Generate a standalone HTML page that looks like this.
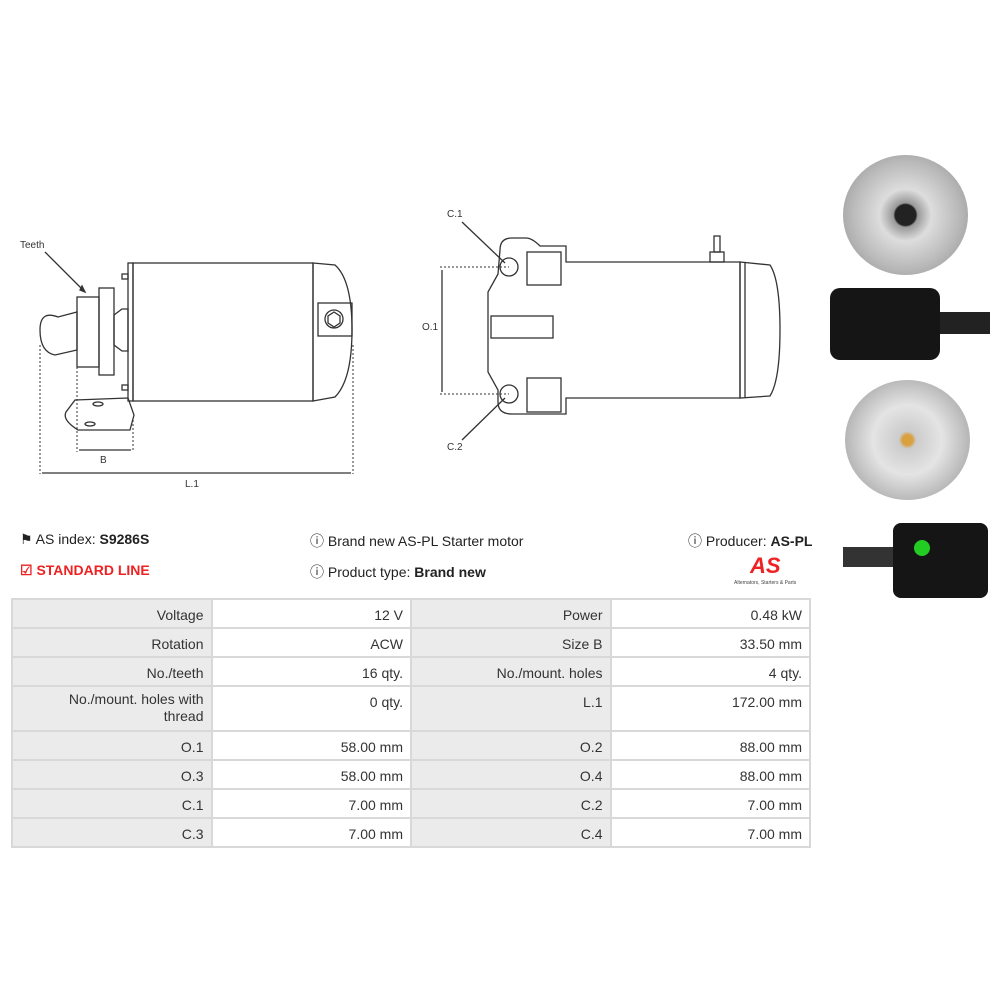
<!DOCTYPE html>
<html><head><style>
body{margin:0;width:1000px;height:1000px;background:#fff;font-family:"Liberation Sans",sans-serif;position:relative;overflow:hidden}
.t{position:absolute;font-size:14px;color:#222}
table{position:absolute;left:11px;top:598px;border-collapse:collapse;width:798px;font-size:14px;color:#333;table-layout:fixed}
tr{height:29px}
td{border:2px solid #d8d8d8;text-align:right;padding:7px 7px 0 7px;height:29px;vertical-align:top;box-sizing:border-box;width:199.5px}
td.g{background:#ebebeb}
</style></head><body>
<svg width="1000" height="520" style="position:absolute;left:0;top:0" fill="none" stroke="#333" stroke-width="1.3">
<text x="20" y="248" font-size="10" fill="#333" stroke="none" font-family="Liberation Sans">Teeth</text>
<line x1="45" y1="252" x2="83" y2="290"/><path d="M80 290 l5 2 -3 -6z" fill="#333"/>
<rect x="133" y="263" width="180" height="138"/>
<rect x="128" y="263" width="5" height="138"/>
<path d="M313 263 L335 265 Q352 280 352 330 Q352 380 335 397 L313 401 Z"/>
<rect x="318" y="303" width="34" height="33"/>
<circle cx="334" cy="319" r="9"/><polygon points="334,312 340,316 340,323 334,327 328,323 328,316"/>
<rect x="122" y="274" width="6" height="5"/><rect x="122" y="385" width="6" height="5"/>
<rect x="99" y="288" width="15" height="87"/><rect x="77" y="297" width="22" height="70"/>
<path d="M114 315 l8 -6 6 0 0 42 -6 0 -8 -6z"/>
<path d="M58 317 Q40 310 40 330 Q40 352 55 355 L77 350 L77 312 Z"/>
<path d="M75 400 L128 398 L134 415 L130 430 L78 430 Q62 420 66 412 Z"/>
<ellipse cx="98" cy="404" rx="5" ry="2"/><ellipse cx="90" cy="424" rx="5" ry="2"/>
<g stroke-dasharray="2 2" stroke-width="1"><line x1="40" y1="345" x2="40" y2="474"/><line x1="353" y1="345" x2="353" y2="474"/><line x1="77" y1="367" x2="77" y2="452"/><line x1="133" y1="420" x2="133" y2="452"/></g>
<line x1="42" y1="473" x2="351" y2="473"/><line x1="79" y1="450" x2="131" y2="450"/>
<text x="100" y="463" font-size="10" fill="#333" stroke="none">B</text>
<text x="185" y="487" font-size="10" fill="#333" stroke="none">L.1</text>
<path d="M500 250 Q500 238 512 238 L526 238 Q532 238 540 246 L566 246 L566 262 L740 262 L740 398 L566 398 L566 414 L512 414 Q498 414 498 402 L498 390 L488 372 L488 292 L498 274 Z"/>
<rect x="527" y="252" width="34" height="33"/><rect x="527" y="378" width="34" height="34"/>
<rect x="491" y="316" width="62" height="22"/>
<circle cx="509" cy="267" r="9"/><circle cx="509" cy="394" r="9"/>
<path d="M740 262 L770 265 Q780 280 780 330 Q780 380 770 396 L740 398 Z"/><line x1="745" y1="262" x2="745" y2="398"/>
<rect x="710" y="252" width="14" height="10"/><rect x="714" y="236" width="6" height="16"/>
<g stroke-dasharray="2 2" stroke-width="1"><line x1="440" y1="267" x2="509" y2="267"/><line x1="440" y1="394" x2="509" y2="394"/></g>
<line x1="442" y1="270" x2="442" y2="392"/>
<text x="422" y="330" font-size="10" fill="#333" stroke="none">O.1</text>
<text x="447" y="217" font-size="10" fill="#333" stroke="none">C.1</text>
<text x="447" y="450" font-size="10" fill="#333" stroke="none">C.2</text>
<line x1="462" y1="222" x2="505" y2="263"/><line x1="462" y1="440" x2="505" y2="398"/>
</svg>
<div style="position:absolute;left:843px;top:155px;width:125px;height:120px;border-radius:50%;background:radial-gradient(circle,#222 12%,#999 14%,#ddd 30%,#bbb 60%,#888 100%)"></div>
<div style="position:absolute;left:830px;top:288px;width:110px;height:72px;border-radius:10px;background:#151515"></div>
<div style="position:absolute;left:940px;top:312px;width:50px;height:22px;background:#222"></div>
<div style="position:absolute;left:845px;top:380px;width:125px;height:120px;border-radius:50%;background:radial-gradient(circle,#d9a040 6%,#ccc 10%,#e4e4e4 40%,#aaa 80%,#777 100%)"></div>
<div style="position:absolute;left:893px;top:523px;width:95px;height:75px;border-radius:8px;background:#151515"></div>
<div style="position:absolute;left:843px;top:547px;width:50px;height:20px;background:#333"></div>
<div style="position:absolute;left:914px;top:540px;width:16px;height:16px;border-radius:50%;background:#2c2"></div>
<div class="t" style="left:20px;top:531px">&#9873; AS index: <b>S9286S</b></div>
<div class="t" style="left:20px;top:562px;color:#e22;font-weight:bold">&#9745; STANDARD LINE</div>
<div class="t" style="left:310px;top:531px">&#9432; Brand new AS-PL Starter motor</div>
<div class="t" style="left:310px;top:562px">&#9432; Product type: <b>Brand new</b></div>
<div class="t" style="left:688px;top:531px">&#9432; Producer: <b>AS-PL</b></div>
<div style="position:absolute;left:750px;top:553px;color:#e22;font:italic bold 22px 'Liberation Sans'">AS</div>
<div style="position:absolute;left:734px;top:580px;font-size:5px;color:#444">Alternators, Starters &amp; Parts</div>
<table>
<tr><td class="g">Voltage</td><td>12 V</td><td class="g">Power</td><td>0.48 kW</td></tr>
<tr><td class="g">Rotation</td><td>ACW</td><td class="g">Size B</td><td>33.50 mm</td></tr>
<tr><td class="g">No./teeth</td><td>16 qty.</td><td class="g">No./mount. holes</td><td>4 qty.</td></tr>
<tr style="height:45px"><td class="g" style="height:45px;line-height:17px;padding-top:4px;padding-left:30px">No./mount. holes with thread</td><td style="height:45px">0 qty.</td><td class="g" style="height:45px">L.1</td><td style="height:45px">172.00 mm</td></tr>
<tr><td class="g">O.1</td><td>58.00 mm</td><td class="g">O.2</td><td>88.00 mm</td></tr>
<tr><td class="g">O.3</td><td>58.00 mm</td><td class="g">O.4</td><td>88.00 mm</td></tr>
<tr><td class="g">C.1</td><td>7.00 mm</td><td class="g">C.2</td><td>7.00 mm</td></tr>
<tr><td class="g">C.3</td><td>7.00 mm</td><td class="g">C.4</td><td>7.00 mm</td></tr>
</table>
</body></html>
